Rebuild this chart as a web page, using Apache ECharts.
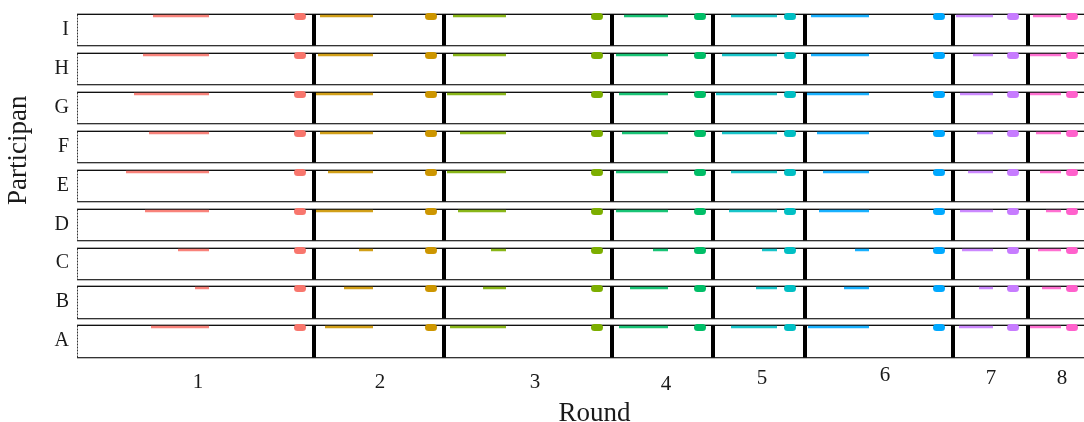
<!DOCTYPE html>
<html>
<head>
<meta charset="utf-8">
<script src="https://cdn.jsdelivr.net/npm/echarts@6/dist/echarts.min.js"></script>
<style>html,body{margin:0;padding:0;background:#fff}#c{width:1084px;height:422px}</style>
</head>
<body>
<div id="c"></div>
<script>
// ---- data (x in time units along the session) ----
const participants = ['A','B','C','D','E','F','G','H','I'];
const rounds = ['1','2','3','4','5','6','7','8'];
const roundEnds = [237, 367, 535, 636, 728, 876, 951, 1019];
const roundLabelX = [121, 303, 458, 589, 685, 808, 914, 985];
const roundLabelShift = [7, 7, 7, 9, 3, 0, 3, 3];
const barEnds = [132, 296, 429, 591, 700, 792, 916, 984];
const dotX = [223, 354, 520, 623, 713, 862, 936, 995];
// bar starts: one array per round, values for participants A..I
const startR1 = [74, 118, 101, 68, 49, 72, 57, 66, 76];
const startR2 = [248, 267, 282, 239, 251, 243, 239, 241, 243];
const startR3 = [373, 406, 414, 381, 370, 383, 370, 376, 376];
const startR4 = [542, 553, 576, 539, 539, 545, 542, 539, 547];
const startR5 = [654, 679, 685, 652, 654, 645, 639, 645, 654];
const startR6 = [731, 767, 778, 742, 746, 740, 730, 734, 734];
const startR7 = [882, 902, 885, 883, 891, 900, 883, 896, 879];
const startR8 = [953, 965, 961, 969, 963, 959, 953, 953, 956];
const starts = [startR1, startR2, startR3, startR4, startR5, startR6, startR7, startR8];
const colors = ['#F8766D','#CD9600','#7CAE00','#00BE67','#00BFC4','#00A9FF','#C77CFF','#FF61CC'];

const FONT = "'Liberation Serif','DejaVu Serif',serif";
const XMAX = roundEnds[roundEnds.length - 1];

// panel data
const panelData = participants.map((p, i) => [0, i]);
// segment data
const segData = [];
rounds.forEach((r, ri) => {
  participants.forEach((p, pi) => {
    segData.push({ value: [starts[ri][pi], pi, barEnds[ri], dotX[ri], ri] });
  });
});

const chart = echarts.init(document.getElementById('c'), null, { renderer: 'canvas' });
const rich = {};
rounds.forEach((r, i) => { rich['s' + i] = { fontFamily: FONT, fontSize: 21, color: '#1a1a1a', padding: [roundLabelShift[i], 0, 0, 0] }; });

chart.setOption({
  animation: false,
  grid: { left: 77, right: -12, top: 10.3, bottom: 61.6, containLabel: false, outerBoundsMode: 'none' },
  xAxis: {
    type: 'value', min: 0, max: XMAX,
    splitLine: { show: false }, axisLine: { show: false }, axisTick: { show: false },
    axisLabel: {
      customValues: roundLabelX,
      formatter: function (v) { const i = roundLabelX.indexOf(v); return '{s' + i + '|' + rounds[i] + '}'; },
      rich: rich, margin: 5
    },
    name: 'Round', nameLocation: 'middle', nameGap: 28,
    nameTextStyle: { fontFamily: FONT, fontSize: 27, color: '#1a1a1a', padding: [0, 0, 0, 16] }
  },
  yAxis: {
    type: 'category', data: participants,
    axisLine: { show: false }, axisTick: { show: false }, splitLine: { show: false },
    axisLabel: { fontFamily: FONT, fontSize: 20, color: '#1a1a1a', margin: 8 },
    name: 'Participan', nameLocation: 'middle', nameGap: 45, nameRotate: 90,
    nameTextStyle: { fontFamily: FONT, fontSize: 27, color: '#1a1a1a', padding: [0, 0, 0, 70], align: 'center' }
  },
  series: [
    {
      type: 'custom', clip: false, silent: true, z: 1,
      data: panelData,
      renderItem: function (params, api) {
        const c0 = api.coord([0, api.value(1)]);
        const c1 = api.coord([XMAX, api.value(1)]);
        const band = api.size([0, 1])[1];
        const h = band * 0.8;
        const top = Math.round(c0[1] - h / 2) + 0.5;
        const bot = Math.round(c0[1] + h / 2) + 0.5;
        const x0 = c0[0], x1 = c1[0];
        const children = [
          { type: 'rect', shape: { x: x0, y: top, width: x1 - x0, height: bot - top }, style: { fill: '#fff', stroke: null } },
          { type: 'line', shape: { x1: x0, y1: top - 1, x2: x1, y2: top - 1 }, style: { stroke: '#aaa', lineWidth: 1 } },
          { type: 'line', shape: { x1: x0, y1: bot + 1, x2: x1, y2: bot + 1 }, style: { stroke: '#bbb', lineWidth: 1 } },
          { type: 'line', shape: { x1: x0, y1: top, x2: x1, y2: top }, style: { stroke: '#111', lineWidth: 1 } },
          { type: 'line', shape: { x1: x0, y1: bot, x2: x1, y2: bot }, style: { stroke: '#333', lineWidth: 1 } },
          { type: 'line', shape: { x1: x0 + 0.5, y1: top, x2: x0 + 0.5, y2: bot }, style: { stroke: '#333', lineWidth: 1, lineDash: [2, 1] } }
        ];
        roundEnds.slice(0, -1).forEach(function (e) {
          const x = api.coord([e, 0])[0];
          children.push({ type: 'line', shape: { x1: x, y1: top, x2: x, y2: bot }, style: { stroke: '#000', lineWidth: 4 } });
        });
        return { type: 'group', children: children };
      }
    },
    {
      type: 'custom', clip: false, silent: true, z: 2,
      data: segData,
      renderItem: function (params, api) {
        const s = api.coord([api.value(0), api.value(1)]);
        const e = api.coord([api.value(2), api.value(1)]);
        const d = api.coord([api.value(3), api.value(1)]);
        const col = colors[api.value(4)];
        const band = api.size([0, 1])[1];
        const h = band * 0.8;
        const top = Math.round(s[1] - h / 2) + 0.5;
        return {
          type: 'group',
          children: [
            { type: 'line', shape: { x1: s[0], y1: top + 1.5, x2: e[0], y2: top + 1.5 }, style: { stroke: col, lineWidth: 2.5, opacity: 0.9 } },
            { type: 'rect', shape: { x: d[0] - 6, y: top - 1.5, width: 12, height: 7, r: 3.5 }, style: { fill: col } }
          ]
        };
      }
    }
  ]
});
</script>
</body>
</html>
